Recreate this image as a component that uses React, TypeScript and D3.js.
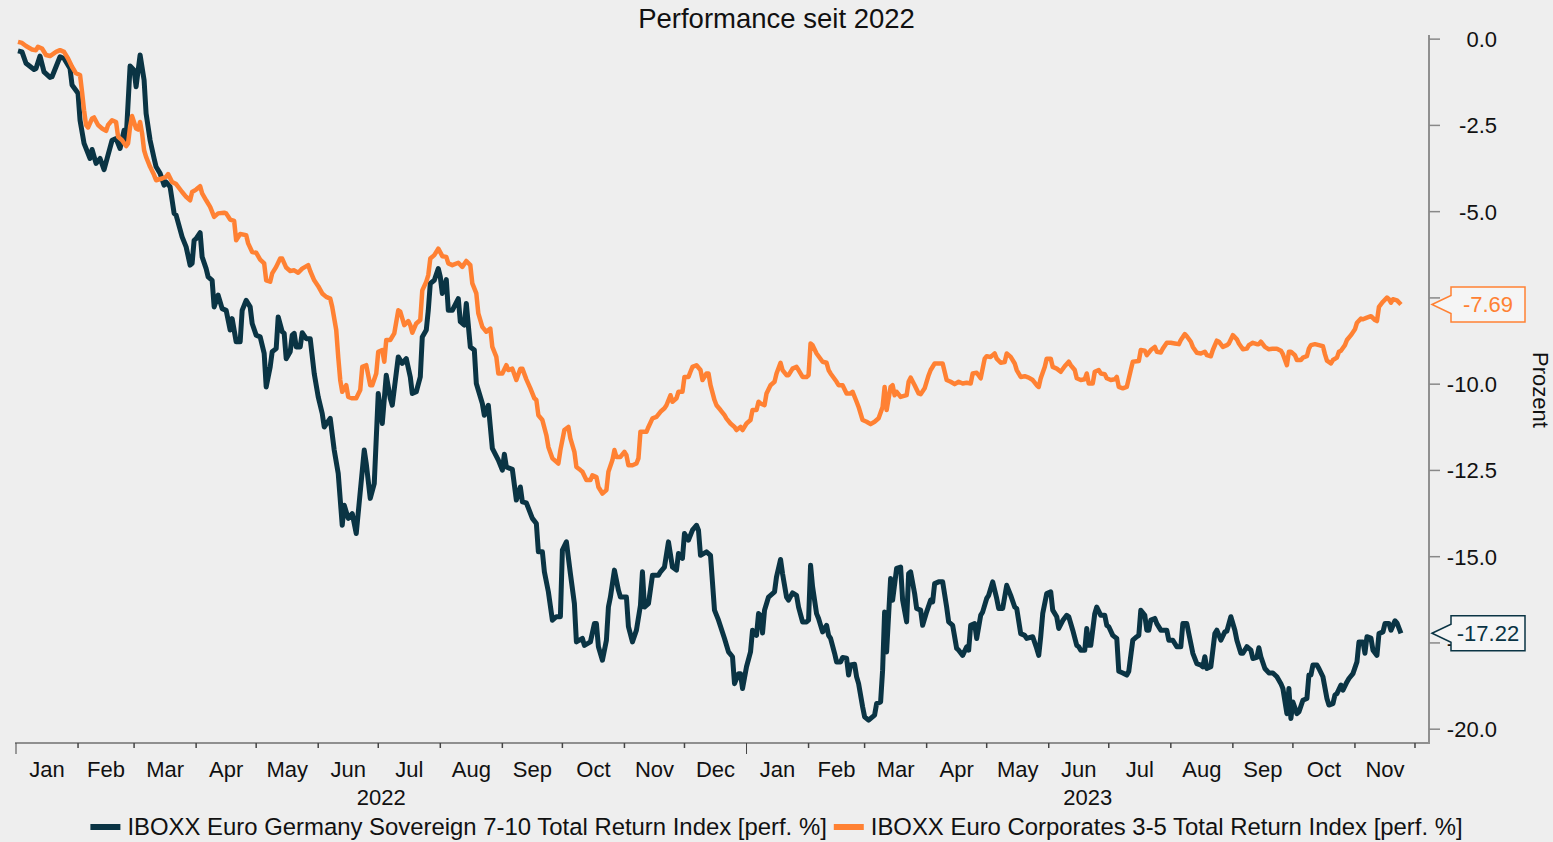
import React, { useEffect, useRef } from "react";
import * as d3 from "d3";

// ---- DATA (day offset from 2022-01-01, performance in %) ----
const startDate = new Date(2022, 0, 1);
const endDate = new Date(2023, 11, 8);

const seriesNames = [
  "IBOXX Euro Germany Sovereign 7-10 Total Return Index [perf. %]",
  "IBOXX Euro Corporates 3-5 Total Return Index [perf. %]",
];
const seriesColors = ["#0a3444", "#ff8133"];

const sovereign: [number, number][] = [
  [1,-0.34],[3,-0.37],[5,-0.70],[9,-0.88],[10,-0.85],[12,-0.49],[14,-0.95],[17,-1.11],[18,-1.09],[22,-0.51],[24,-0.56],[27,-0.85],[28,-1.33],[31,-1.57],[32,-2.35],[34,-3.02],[37,-3.46],[38,-3.20],[40,-3.60],[42,-3.46],[44,-3.78],[48,-2.93],[50,-2.88],[52,-3.17],[54,-2.64],[55,-2.93],[57,-0.78],[59,-0.90],[60,-1.38],[62,-0.46],[64,-1.19],[65,-2.15],[67,-2.93],[69,-3.46],[70,-3.70],[72,-3.89],[74,-4.23],[75,-4.14],[77,-4.28],[79,-5.05],[80,-5.10],[83,-5.73],[85,-6.02],[87,-6.55],[88,-6.50],[89,-5.83],[90,-5.78],[92,-5.61],[93,-6.31],[95,-6.65],[96,-6.89],[98,-6.99],[99,-7.76],[101,-7.42],[103,-7.81],[105,-7.86],[107,-8.43],[108,-8.10],[110,-8.77],[112,-8.77],[113,-7.86],[115,-7.57],[117,-7.76],[118,-8.24],[120,-8.58],[122,-8.63],[124,-9.11],[125,-10.08],[127,-9.50],[128,-9.06],[130,-8.97],[131,-8.05],[133,-8.48],[134,-8.53],[135,-9.26],[137,-9.06],[138,-8.58],[139,-8.53],[140,-8.92],[142,-8.92],[143,-8.51],[145,-8.68],[147,-8.68],[149,-9.69],[151,-10.37],[153,-10.85],[154,-11.24],[157,-10.99],[159,-11.91],[161,-12.59],[163,-14.09],[164,-13.51],[166,-13.89],[168,-13.75],[170,-14.33],[174,-11.91],[175,-12.30],[177,-13.31],[179,-12.88],[181,-10.27],[183,-11.14],[185,-9.74],[187,-10.41],[188,-10.61],[191,-9.21],[193,-9.40],[195,-9.26],[197,-9.79],[198,-10.27],[200,-10.22],[202,-9.79],[203,-8.63],[205,-8.43],[206,-7.86],[207,-7.08],[209,-6.99],[211,-6.65],[212,-6.89],[213,-7.37],[215,-6.97],[216,-7.86],[218,-7.86],[221,-7.52],[222,-8.19],[224,-8.29],[225,-7.66],[227,-8.92],[229,-9.01],[230,-9.98],[233,-10.56],[234,-10.90],[236,-10.61],[238,-11.86],[241,-12.20],[243,-12.49],[244,-12.03],[245,-12.40],[248,-12.47],[250,-13.36],[252,-12.98],[253,-13.41],[255,-13.44],[258,-13.89],[260,-14.04],[261,-14.86],[263,-14.86],[264,-15.44],[266,-16.02],[268,-16.84],[270,-16.74],[272,-16.74],[273,-14.81],[275,-14.57],[277,-15.49],[279,-16.36],[280,-17.47],[283,-17.37],[284,-17.57],[287,-17.47],[289,-16.94],[290,-16.94],[291,-17.61],[293,-18.00],[295,-17.42],[296,-16.46],[297,-16.17],[299,-15.39],[301,-15.97],[302,-16.17],[305,-16.17],[306,-17.03],[308,-17.47],[310,-17.13],[312,-16.41],[313,-15.44],[314,-16.46],[316,-16.36],[318,-15.54],[321,-15.54],[322,-15.44],[324,-15.30],[326,-14.57],[328,-15.30],[330,-15.39],[331,-14.91],[333,-15.05],[334,-14.33],[336,-14.52],[338,-14.23],[340,-14.09],[341,-14.23],[342,-14.96],[345,-14.86],[347,-14.96],[349,-16.55],[351,-16.84],[354,-17.37],[356,-17.76],[358,-17.90],[359,-18.68],[361,-18.39],[362,-18.39],[363,-18.82],[365,-18.19],[367,-17.76],[368,-17.13],[370,-17.28],[371,-16.65],[372,-16.70],[373,-17.21],[374,-16.55],[376,-16.17],[378,-16.07],[379,-16.02],[380,-15.58],[382,-15.08],[383,-15.49],[385,-16.17],[386,-16.26],[388,-16.05],[390,-16.12],[391,-16.46],[393,-16.89],[395,-16.89],[396,-16.84],[397,-15.25],[398,-15.87],[400,-16.65],[401,-16.79],[403,-17.18],[405,-16.99],[406,-17.28],[407,-17.37],[409,-17.80],[410,-18.05],[412,-18.05],[413,-17.92],[415,-17.94],[416,-18.43],[417,-18.14],[419,-18.12],[420,-18.48],[421,-18.68],[423,-19.35],[424,-19.64],[426,-19.74],[429,-19.59],[430,-19.26],[432,-19.21],[433,-18.29],[434,-16.60],[435,-17.76],[437,-15.63],[438,-16.26],[440,-15.34],[442,-15.30],[443,-16.26],[445,-16.89],[446,-15.49],[447,-15.44],[449,-16.07],[450,-16.50],[452,-16.55],[453,-16.99],[455,-16.60],[457,-16.26],[458,-16.31],[459,-15.78],[461,-15.73],[463,-15.73],[465,-16.46],[466,-16.89],[468,-16.99],[470,-17.66],[471,-17.71],[473,-17.86],[475,-17.61],[476,-17.71],[477,-16.99],[479,-16.94],[480,-17.37],[482,-16.70],[483,-16.60],[485,-16.21],[486,-16.12],[488,-15.73],[490,-16.21],[491,-16.50],[493,-16.50],[495,-15.83],[497,-16.12],[499,-16.46],[500,-16.50],[502,-17.23],[504,-17.28],[505,-17.37],[508,-17.32],[510,-17.66],[511,-17.86],[512,-17.32],[513,-16.65],[515,-16.07],[517,-16.02],[518,-16.55],[520,-16.74],[521,-17.08],[523,-16.85],[525,-16.70],[526,-16.74],[528,-17.13],[530,-17.57],[531,-17.61],[532,-17.71],[534,-17.71],[535,-17.08],[536,-17.57],[537,-17.57],[539,-16.65],[540,-16.46],[542,-16.70],[544,-16.70],[545,-16.99],[546,-17.03],[548,-17.28],[550,-17.37],[551,-18.32],[553,-18.37],[555,-18.43],[556,-18.32],[558,-17.42],[560,-17.32],[561,-17.28],[562,-16.55],[564,-16.70],[565,-17.13],[566,-17.13],[567,-16.84],[569,-16.79],[570,-16.94],[572,-17.13],[574,-17.13],[575,-17.13],[576,-17.42],[578,-17.42],[580,-17.61],[582,-17.61],[583,-16.94],[585,-16.94],[586,-17.23],[588,-17.80],[590,-18.10],[592,-18.14],[593,-18.19],[594,-17.90],[595,-18.24],[597,-18.19],[599,-17.23],[600,-17.13],[602,-17.42],[604,-17.18],[605,-17.16],[607,-16.74],[609,-17.13],[610,-17.42],[612,-17.80],[613,-17.80],[615,-17.61],[617,-17.71],[618,-17.95],[620,-17.92],[621,-17.64],[622,-17.90],[624,-18.24],[626,-18.37],[628,-18.37],[630,-18.48],[632,-18.68],[633,-18.82],[635,-19.55],[636,-18.82],[637,-19.69],[638,-19.21],[640,-19.55],[641,-19.50],[643,-19.16],[645,-19.11],[646,-18.43],[647,-18.43],[648,-18.14],[650,-18.14],[651,-18.24],[653,-18.48],[655,-19.11],[656,-19.30],[658,-19.26],[659,-19.01],[660,-18.97],[662,-18.72],[663,-18.87],[665,-18.63],[666,-18.53],[668,-18.39],[670,-18.05],[671,-17.47],[673,-17.47],[674,-17.80],[675,-17.32],[677,-17.36],[678,-17.71],[680,-17.86],[681,-17.23],[683,-17.18],[684,-16.94],[686,-16.94],[687,-17.13],[689,-16.86],[690,-16.92],[692,-17.22],
];

const corporates: [number, number][] = [
  [1,-0.08],[3,-0.11],[5,-0.20],[8,-0.30],[10,-0.32],[11,-0.22],[13,-0.27],[15,-0.46],[17,-0.49],[20,-0.37],[22,-0.32],[24,-0.37],[26,-0.56],[28,-0.80],[30,-0.99],[32,-1.04],[33,-1.53],[34,-2.06],[35,-2.49],[36,-2.56],[38,-2.30],[39,-2.27],[41,-2.49],[43,-2.59],[45,-2.66],[46,-2.49],[48,-2.35],[50,-2.40],[51,-2.83],[53,-2.93],[55,-3.10],[56,-3.02],[57,-2.54],[58,-2.23],[60,-2.59],[61,-2.62],[62,-2.40],[63,-2.73],[64,-3.22],[65,-3.41],[67,-3.70],[69,-3.94],[70,-4.09],[73,-4.04],[75,-3.99],[76,-3.91],[78,-4.14],[80,-4.20],[83,-4.43],[85,-4.57],[87,-4.67],[88,-4.43],[90,-4.36],[92,-4.26],[93,-4.47],[95,-4.67],[97,-4.86],[99,-5.15],[101,-5.05],[104,-5.03],[105,-5.05],[107,-5.23],[109,-5.27],[110,-5.83],[112,-5.65],[115,-5.68],[116,-5.92],[118,-6.17],[120,-6.19],[122,-6.39],[124,-6.50],[125,-6.99],[127,-7.03],[128,-6.79],[130,-6.60],[132,-6.36],[133,-6.36],[135,-6.62],[137,-6.72],[139,-6.70],[141,-6.77],[143,-6.65],[146,-6.55],[147,-6.72],[149,-6.99],[151,-7.16],[153,-7.37],[155,-7.47],[157,-7.52],[158,-7.76],[160,-8.43],[161,-9.21],[162,-9.88],[163,-10.22],[165,-10.03],[166,-10.37],[168,-10.41],[170,-10.41],[172,-10.17],[173,-9.50],[175,-9.45],[177,-10.03],[178,-10.03],[180,-9.69],[181,-9.06],[183,-9.01],[184,-9.35],[185,-8.72],[187,-8.72],[189,-8.53],[191,-7.86],[192,-7.90],[194,-8.29],[196,-8.17],[197,-8.29],[198,-8.51],[200,-8.24],[202,-8.14],[203,-7.28],[205,-7.03],[206,-6.84],[207,-6.36],[209,-6.26],[211,-6.07],[213,-6.29],[215,-6.31],[216,-6.50],[218,-6.55],[221,-6.48],[223,-6.60],[225,-6.43],[227,-6.55],[228,-7.08],[230,-7.37],[231,-7.95],[233,-8.34],[235,-8.48],[237,-8.39],[238,-8.92],[240,-9.21],[241,-9.69],[243,-9.69],[245,-9.45],[246,-9.59],[248,-9.55],[250,-9.88],[252,-9.55],[253,-9.55],[255,-9.86],[257,-10.12],[259,-10.41],[260,-10.46],[261,-10.90],[263,-11.04],[265,-11.48],[266,-11.82],[268,-12.15],[270,-12.25],[271,-12.30],[272,-11.91],[274,-11.33],[276,-11.24],[277,-11.57],[279,-11.96],[280,-12.40],[282,-12.49],[283,-12.54],[285,-12.78],[287,-12.78],[288,-12.64],[290,-12.69],[291,-12.98],[293,-13.17],[295,-13.07],[296,-12.54],[298,-12.20],[299,-11.91],[300,-12.11],[302,-12.11],[304,-11.96],[305,-12.06],[306,-12.35],[308,-12.35],[310,-12.30],[311,-12.15],[312,-11.38],[315,-11.38],[316,-11.24],[318,-10.99],[320,-10.95],[322,-10.80],[324,-10.70],[325,-10.61],[327,-10.32],[328,-10.51],[330,-10.41],[331,-10.22],[333,-10.22],[334,-9.79],[336,-9.79],[337,-9.64],[338,-9.50],[340,-9.45],[342,-9.59],[343,-9.88],[345,-9.69],[346,-9.69],[347,-10.03],[349,-10.46],[350,-10.61],[352,-10.75],[354,-10.90],[355,-11.00],[357,-11.14],[359,-11.24],[360,-11.33],[362,-11.24],[363,-11.33],[365,-11.14],[367,-11.04],[368,-10.75],[370,-10.75],[371,-10.51],[372,-10.56],[374,-10.61],[375,-10.27],[377,-10.03],[379,-9.93],[380,-9.69],[382,-9.38],[383,-9.59],[385,-9.74],[386,-9.74],[388,-9.55],[390,-9.50],[391,-9.59],[393,-9.79],[395,-9.79],[396,-9.74],[397,-8.82],[398,-8.87],[400,-9.11],[401,-9.19],[403,-9.35],[405,-9.38],[406,-9.59],[407,-9.69],[410,-9.93],[411,-10.03],[413,-10.03],[415,-10.27],[417,-10.27],[418,-10.22],[420,-10.51],[421,-10.66],[423,-11.04],[425,-11.09],[427,-11.16],[429,-11.09],[431,-10.99],[433,-10.66],[434,-10.08],[435,-10.75],[437,-10.08],[438,-10.03],[439,-10.32],[440,-10.22],[442,-10.37],[445,-10.32],[446,-9.93],[447,-9.81],[449,-10.03],[451,-10.27],[452,-10.29],[454,-10.12],[456,-9.74],[457,-9.59],[459,-9.40],[461,-9.40],[463,-9.40],[465,-9.88],[467,-9.93],[469,-10.00],[471,-9.93],[473,-9.98],[475,-9.96],[477,-9.98],[478,-9.69],[480,-9.67],[482,-9.83],[484,-9.26],[485,-9.19],[487,-9.21],[489,-9.11],[490,-9.26],[492,-9.38],[494,-9.36],[495,-9.11],[497,-9.21],[499,-9.40],[500,-9.59],[502,-9.79],[504,-9.77],[506,-9.81],[508,-9.88],[510,-10.03],[511,-10.08],[512,-9.83],[514,-9.50],[515,-9.26],[517,-9.26],[518,-9.50],[520,-9.55],[522,-9.64],[524,-9.48],[526,-9.35],[527,-9.45],[529,-9.59],[530,-9.83],[532,-9.88],[534,-9.86],[535,-9.69],[536,-9.98],[538,-9.98],[539,-9.64],[541,-9.59],[542,-9.69],[544,-9.71],[545,-9.83],[547,-9.88],[549,-9.86],[550,-9.79],[551,-10.08],[553,-10.12],[555,-10.08],[557,-9.59],[558,-9.35],[561,-9.33],[562,-9.01],[564,-9.03],[565,-9.16],[567,-9.01],[569,-8.92],[570,-9.06],[572,-9.08],[573,-8.97],[575,-8.80],[577,-8.80],[579,-8.82],[581,-8.84],[582,-8.72],[584,-8.55],[585,-8.61],[587,-8.77],[588,-8.92],[590,-9.09],[592,-9.11],[594,-9.06],[595,-9.16],[597,-9.19],[598,-9.01],[600,-8.74],[601,-8.77],[603,-8.92],[605,-8.87],[606,-8.82],[608,-8.58],[610,-8.70],[611,-8.82],[613,-8.99],[615,-8.97],[616,-8.87],[618,-8.80],[620,-8.84],[621,-8.84],[622,-8.77],[624,-8.92],[626,-8.99],[628,-8.97],[630,-8.97],[632,-9.03],[633,-9.13],[635,-9.45],[636,-9.06],[637,-9.06],[639,-9.16],[640,-9.30],[642,-9.30],[643,-9.23],[645,-9.19],[646,-8.97],[647,-8.87],[649,-8.84],[651,-8.87],[653,-8.90],[654,-9.13],[655,-9.32],[657,-9.40],[658,-9.30],[660,-9.23],[661,-9.06],[662,-9.03],[664,-8.87],[665,-8.72],[667,-8.58],[669,-8.41],[670,-8.22],[672,-8.10],[673,-8.12],[675,-8.07],[677,-8.03],[679,-8.14],[680,-8.17],[681,-7.76],[683,-7.61],[685,-7.49],[686,-7.54],[687,-7.64],[688,-7.54],[690,-7.57],[692,-7.69],
];

const seriesData = [sovereign, corporates];
const yTicks = [0, -2.5, -5, -7.5, -10, -12.5, -15, -17.5, -20];
const titleText = "Performance seit 2022";
const yAxisLabel = "Prozent";

const W = 1553;
const H = 842;
const FONT = "'Liberation Sans', Arial, Helvetica, sans-serif";

export default function App() {
  const ref = useRef<SVGSVGElement>(null);

  useEffect(() => {
    const svg = d3.select(ref.current);
    svg.selectAll("*").remove();
    svg.append("rect").attr("width", W).attr("height", H).attr("fill", "#eeeeee");

    const x = d3.scaleTime().domain([startDate, endDate]).range([16, 1429]);
    const y = d3.scaleLinear().domain([0.12, -20.4]).range([35, 743]);
    const toDate = (d: number) => d3.timeDay.offset(startDate, d);

    // title
    svg.append("text").attr("x", W / 2).attr("y", 28).attr("text-anchor", "middle")
      .attr("font-family", FONT).attr("font-size", 27.5).attr("fill", "#111").text(titleText);

    // series lines
    const line = d3.line<[number, number]>()
      .x((d) => x(toDate(d[0])))
      .y((d) => y(d[1]));
    seriesData.forEach((s, i) => {
      svg.append("path").attr("d", line(s) as string).attr("fill", "none")
        .attr("stroke", seriesColors[i]).attr("stroke-width", i === 0 ? 5 : 4.5)
        .attr("stroke-linejoin", "round").attr("stroke-linecap", "butt");
    });

    // x axis
    const xr = x.range();
    const yBase = y.range()[1];
    svg.append("line").attr("x1", xr[0] - 1).attr("x2", xr[1] + 1).attr("y1", yBase).attr("y2", yBase)
      .attr("stroke", "#8f8f8f").attr("stroke-width", 2);
    const monthTicks = d3.timeMonth.range(d3.timeMonth.offset(startDate, 1), endDate)
      .filter((m) => m.getMonth() !== 0);
    svg.selectAll(".mtick").data(monthTicks).enter().append("line")
      .attr("x1", (d) => x(d)).attr("x2", (d) => x(d)).attr("y1", yBase).attr("y2", yBase + 5)
      .attr("stroke", "#444").attr("stroke-width", 1.5);
    const yearStarts = d3.timeYear.range(startDate, endDate);
    svg.selectAll(".ytick").data(yearStarts).enter().append("line")
      .attr("x1", (d) => x(d)).attr("x2", (d) => x(d)).attr("y1", yBase).attr("y2", yBase + 11)
      .attr("stroke", "#444").attr("stroke-width", 1);
    const months = d3.timeMonth.range(startDate, d3.timeMonth.floor(endDate));
    svg.selectAll(".mlabel").data(months).enter().append("text")
      .attr("x", (d) => (x(d) + x(d3.timeMonth.offset(d, 1))) / 2).attr("y", 777)
      .attr("text-anchor", "middle").attr("font-family", FONT).attr("font-size", 22).attr("fill", "#111")
      .text((d) => d3.timeFormat("%b")(d));
    svg.selectAll(".yrlabel").data(yearStarts).enter().append("text")
      .attr("x", (d) => (x(d) + Math.min(x(d3.timeYear.offset(d, 1)), xr[1])) / 2).attr("y", 805)
      .attr("text-anchor", "middle").attr("font-family", FONT).attr("font-size", 22).attr("fill", "#111")
      .text((d) => d3.timeFormat("%Y")(d));

    // y axis (right)
    const yr = y.range();
    svg.append("line").attr("x1", xr[1]).attr("x2", xr[1]).attr("y1", yr[0]).attr("y2", yr[1] + 1)
      .attr("stroke", "#8f8f8f").attr("stroke-width", 2);
    svg.selectAll(".ytk").data(yTicks).enter().append("line")
      .attr("x1", xr[1]).attr("x2", xr[1] + 11).attr("y1", (d) => y(d)).attr("y2", (d) => y(d))
      .attr("stroke", "#888").attr("stroke-width", 1.5);
    svg.selectAll(".ylab").data(yTicks).enter().append("text")
      .attr("x", 1497).attr("y", (d) => y(d) + 8).attr("text-anchor", "end")
      .attr("font-family", FONT).attr("font-size", 22).attr("fill", "#111")
      .text((d) => d.toFixed(1));
    svg.append("text").attr("transform", "translate(1540,390) rotate(90)")
      .attr("text-anchor", "middle").attr("dominant-baseline", "central")
      .attr("font-family", FONT).attr("font-size", 22).attr("fill", "#111").text(yAxisLabel);

    // last-value callouts (drawn over the axis labels, as in the reference)
    seriesData.forEach((s, i) => {
      const last = s[s.length - 1][1];
      const ty = y(last);
      const tipX = xr[1] + 3;
      const bx = tipX + 19;
      const bw = 74;
      const h2 = 17.5;
      const n = 9;
      const pts = [
        [tipX, ty], [bx, ty - n], [bx, ty - h2], [bx + bw, ty - h2], [bx + bw, ty + h2], [bx, ty + h2], [bx, ty + n],
      ];
      svg.append("polygon").attr("points", pts.map((p) => p.join(",")).join(" "))
        .attr("fill", "#f5f5f5").attr("stroke", seriesColors[i]).attr("stroke-width", 1.5);
      svg.append("text").attr("x", bx + bw / 2).attr("y", ty + 8).attr("text-anchor", "middle")
        .attr("font-family", FONT).attr("font-size", 22).attr("fill", seriesColors[i]).text(last.toFixed(2));
    });

    // legend
    const lg = svg.append("g");
    let cx = 0;
    const sw = 30;
    seriesNames.forEach((name, i) => {
      lg.append("line").attr("x1", cx).attr("x2", cx + sw).attr("y1", 827).attr("y2", 827)
        .attr("stroke", seriesColors[i]).attr("stroke-width", 6);
      const t = lg.append("text").attr("x", cx + sw + 7).attr("y", 835)
        .attr("font-family", FONT).attr("font-size", 23.9).attr("fill", "#111").text(name);
      const w = (t.node() as SVGTextElement).getComputedTextLength();
      cx += sw + 7 + w + 7;
    });
    const total = cx - 7;
    lg.attr("transform", `translate(${W / 2 - total / 2},0)`);
  }, []);

  return (
    <svg ref={ref} width={W} height={H} style={{ position: "absolute", left: 0, top: 0, display: "block" }} />
  );
}
